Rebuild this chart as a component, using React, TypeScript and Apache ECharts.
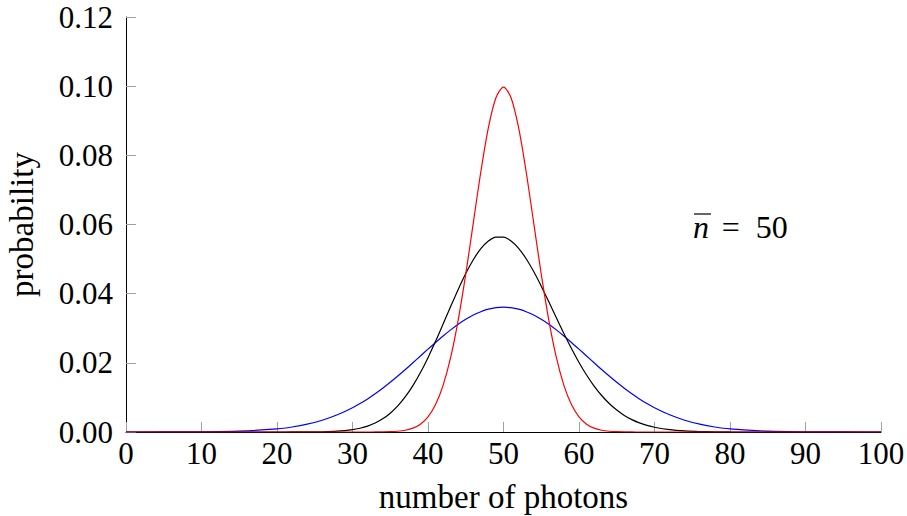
import React, { useEffect, useRef } from "react";
import * as echarts from "echarts";

const photons = [
  0, 5, 10, 15, 20, 22, 24, 26, 28,
  30, 31, 32, 33, 34, 35, 36, 37, 38, 39,
  40, 41, 42, 43, 44, 45, 46, 47, 48, 49,
  50, 51, 52, 53, 54, 55, 56, 57, 58, 59,
  60, 61, 62, 63, 64, 65, 66, 67, 68, 69,
  70, 72, 74, 76, 78, 80, 85, 90, 95, 100,
];

const superPoisson = [
  0, 0.00001, 0.00005, 0.00024, 0.0009, 0.00145, 0.00226, 0.00341, 0.00497,
  0.00701, 0.00822, 0.00957, 0.01105, 0.01264, 0.01436, 0.01617, 0.01806, 0.02001, 0.02199,
  0.02396, 0.0259, 0.02777, 0.02953, 0.03115, 0.03258, 0.03381, 0.03479, 0.03551, 0.03595,
  0.0361, 0.03595, 0.03551, 0.03479, 0.03381, 0.03258, 0.03115, 0.02953, 0.02777, 0.0259,
  0.02396, 0.02199, 0.02001, 0.01806, 0.01617, 0.01436, 0.01264, 0.01105, 0.00957, 0.00822,
  0.00701, 0.00497, 0.00341, 0.00226, 0.00145, 0.0009, 0.00024, 0.00005, 0.00001, 0,
];

const poisson = [
  0, 0, 0, 0, 0, 0.00001, 0.00002, 0.00007, 0.00024,
  0.00068, 0.00109, 0.00171, 0.00259, 0.0038, 0.00543, 0.00755, 0.0102, 0.01342, 0.0172,
  0.0215, 0.02622, 0.03121, 0.03629, 0.04124, 0.04583, 0.04981, 0.05299, 0.0552, 0.05633,
  0.05633, 0.05523, 0.0531, 0.0501, 0.04639, 0.04217, 0.03765, 0.03303, 0.02847, 0.02413,
  0.02011, 0.01648, 0.01329, 0.01055, 0.00824, 0.00634, 0.0048, 0.00358, 0.00264, 0.00191,
  0.00137, 0.00067, 0.00031, 0.00014, 0.00006, 0.00002, 0, 0, 0, 0,
];

const subPoisson = [
  0, 0, 0, 0, 0, 0, 0, 0, 0,
  0, 0, 0, 0.00001, 0.00003, 0.00009, 0.00022, 0.00051, 0.00111, 0.00227,
  0.00438, 0.00793, 0.01349, 0.02157, 0.03237, 0.04564, 0.06047, 0.07525, 0.08799, 0.09663,
  0.0997, 0.09663, 0.08799, 0.07525, 0.06047, 0.04564, 0.03237, 0.02157, 0.01349, 0.00793,
  0.00438, 0.00227, 0.00111, 0.00051, 0.00022, 0.00009, 0.00003, 0.00001, 0, 0,
  0, 0, 0, 0, 0, 0, 0, 0, 0, 0,
];

const xTicks = { min: 0, max: 100, interval: 10 };
const yTicks = { min: 0, max: 0.12, interval: 0.02 };
const symbolAt = [75.1, 0.0593];
const valueAt = [78.9, 0.0593];

const FONT = "Liberation Serif";
const NOTE_FONT = "Times New Roman";

function pairs(ys: number[]) {
  return photons.map((x, i) => [x, ys[i]]);
}

export default function App() {
  const ref = useRef<HTMLDivElement>(null);
  useEffect(() => {
    if (!ref.current) return;
    const chart = echarts.init(ref.current, undefined, { renderer: "svg" });
    const lineSeries = (name: string, ys: number[], color: string) => ({
      name,
      type: "line",
      data: pairs(ys),
      smooth: 0.3,
      showSymbol: false,
      symbol: "none",
      lineStyle: { color, width: 1.2 },
      itemStyle: { color },
    });
    const noteLabel = (text: string, extra: any) => ({
      show: true,
      position: "inside",
      align: "left",
      verticalAlign: "middle",
      color: "#000",
      formatter: text,
      fontFamily: NOTE_FONT,
      fontSize: 32,
      ...extra,
    });
    const notes: any = {
      name: "annotation",
      type: "line",
      data: [],
      markPoint: {
        symbol: "circle",
        symbolSize: 0,
        data: [
          { coord: symbolAt, label: noteLabel("n", { fontStyle: "italic" }) },
          { coord: valueAt, label: noteLabel("=  50", {}) },
        ],
      },
    };
    chart.setOption({
      animation: false,
      backgroundColor: "#fff",
      grid: { left: 126, right: 26, top: 17, bottom: 84, outerBoundsMode: "none" },
      xAxis: {
        type: "value",
        min: xTicks.min,
        max: xTicks.max,
        interval: xTicks.interval,
        name: "number of photons",
        nameLocation: "middle",
        nameGap: 48,
        nameTextStyle: { fontFamily: FONT, fontSize: 33, color: "#000" },
        axisLine: { show: true, lineStyle: { color: "#000", width: 1 } },
        axisTick: { show: true, inside: true, length: 10, lineStyle: { color: "#a0a0a0", width: 1 } },
        axisLabel: { fontFamily: FONT, fontSize: 31, color: "#000", margin: 6 },
        splitLine: { show: false },
      },
      yAxis: {
        type: "value",
        min: yTicks.min,
        max: yTicks.max,
        interval: yTicks.interval,
        name: "probability",
        nameLocation: "middle",
        nameGap: 88,
        nameTextStyle: { fontFamily: FONT, fontSize: 33, color: "#000" },
        axisLine: { show: true, lineStyle: { color: "#000", width: 1 } },
        axisTick: { show: true, inside: true, length: 10, lineStyle: { color: "#a0a0a0", width: 1 } },
        axisLabel: {
          fontFamily: FONT,
          fontSize: 31,
          color: "#000",
          margin: 13,
          formatter: (v: number) => v.toFixed(2),
        },
        splitLine: { show: false },
      },
      graphic: [
        {
          type: "line",
          shape: { x1: 694, y1: 214, x2: 711, y2: 214 },
          style: { stroke: "#000", lineWidth: 1.2 },
        },
      ],
      series: [
        lineSeries("super-Poissonian", superPoisson, "#0000ff"),
        lineSeries("Poissonian", poisson, "#000000"),
        lineSeries("sub-Poissonian", subPoisson, "#ff0000"),
        notes,
      ],
    });
    return () => chart.dispose();
  }, []);
  return (
    <div
      ref={ref}
      style={{ position: "fixed", left: 0, top: 0, width: 907, height: 516 }}
    />
  );
}
